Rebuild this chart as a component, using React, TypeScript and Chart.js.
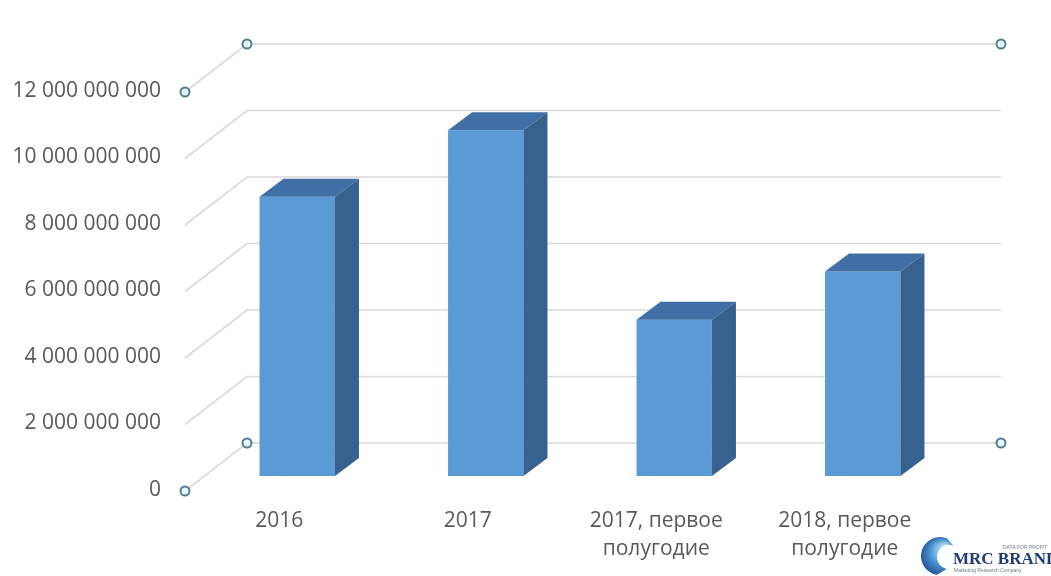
import React, { useEffect, useRef } from "react";
import { Chart, registerables } from "chart.js";

Chart.register(...registerables);

const categories: (string | string[])[] = [
  "2016",
  "2017",
  ["2017, первое", "полугодие"],
  ["2018, первое", "полугодие"],
];
const values: number[] = [8400000000, 10400000000, 4700000000, 6150000000];
const yMin = 0;
const yMax = 12000000000;
const yStep = 2000000000;

const FRONT = { dx: -18, dy: 15 };
const BACK = { dx: 44, dy: -33 };
const BAR_DEPTH = { dx: 24, dy: -18 };

const fmt = (v: number) =>
  Math.round(v)
    .toString()
    .replace(/\B(?=(\d{3})+(?!\d))/g, " ");

const wallPlugin = {
  id: "wall3d",
  beforeDatasetsDraw(chart: any) {
    const { ctx, chartArea, scales } = chart;
    const y = scales.y;
    ctx.save();
    ctx.strokeStyle = "#D9D9D9";
    ctx.lineWidth = 1.6;
    for (let v = yMin; v <= yMax; v += yStep) {
      const py = y.getPixelForValue(v);
      ctx.beginPath();
      ctx.moveTo(chartArea.left + FRONT.dx, py + FRONT.dy);
      ctx.lineTo(chartArea.left + BACK.dx, py + BACK.dy);
      ctx.lineTo(chartArea.right + BACK.dx, py + BACK.dy);
      ctx.stroke();
    }
    ctx.restore();
  },
  afterDatasetsDraw(chart: any) {
    const { ctx, chartArea, scales } = chart;
    const meta = chart.getDatasetMeta(0);
    ctx.save();
    meta.data.forEach((bar: any) => {
      const { x, y, base, width } = bar.getProps(["x", "y", "base", "width"], true);
      const x0 = x - width / 2;
      const x1 = x + width / 2;
      // top face
      ctx.fillStyle = "#3F6FA4";
      ctx.beginPath();
      ctx.moveTo(x0, y);
      ctx.lineTo(x1, y);
      ctx.lineTo(x1 + BAR_DEPTH.dx, y + BAR_DEPTH.dy);
      ctx.lineTo(x0 + BAR_DEPTH.dx, y + BAR_DEPTH.dy);
      ctx.closePath();
      ctx.fill();
      // side face
      ctx.fillStyle = "#37618F";
      ctx.beginPath();
      ctx.moveTo(x1, y);
      ctx.lineTo(x1 + BAR_DEPTH.dx, y + BAR_DEPTH.dy);
      ctx.lineTo(x1 + BAR_DEPTH.dx, base + BAR_DEPTH.dy);
      ctx.lineTo(x1, base);
      ctx.closePath();
      ctx.fill();
    });
    // selection handles
    const yTop = scales.y.getPixelForValue(yMax);
    const yBot = scales.y.getPixelForValue(yMin);
    const pts = [
      [chartArea.left + FRONT.dx, yTop + FRONT.dy],
      [chartArea.left + BACK.dx, yTop + BACK.dy],
      [chartArea.right + BACK.dx, yTop + BACK.dy],
      [chartArea.left + FRONT.dx, yBot + FRONT.dy],
      [chartArea.left + BACK.dx, yBot + BACK.dy],
      [chartArea.right + BACK.dx, yBot + BACK.dy],
    ];
    ctx.lineWidth = 2;
    ctx.strokeStyle = "#4F7D98";
    ctx.fillStyle = "#EAF6FB";
    pts.forEach(([px, py]) => {
      ctx.beginPath();
      ctx.arc(px, py, 4.5, 0, Math.PI * 2);
      ctx.fill();
      ctx.stroke();
    });
    // logo
    const lx = 940;
    const ly = 556;
    const g = ctx.createRadialGradient(lx + 6, ly - 8, 2, lx, ly, 22);
    g.addColorStop(0, "#D6EEFA");
    g.addColorStop(0.5, "#4C9AD6");
    g.addColorStop(1, "#1D4488");
    ctx.fillStyle = g;
    ctx.beginPath();
    ctx.arc(lx, ly, 19, Math.PI * 0.55, Math.PI * 1.62);
    ctx.arc(lx + 9, ly + 1, 12, Math.PI * 1.62, Math.PI * 0.55, true);
    ctx.closePath();
    ctx.fill();
    ctx.fillStyle = "#1F3C7A";
    ctx.font = "bold 17px 'Liberation Serif', serif";
    ctx.textAlign = "left";
    ctx.textBaseline = "alphabetic";
    ctx.fillText("MRC BRAND", 953, 564);
    ctx.font = "5px 'Liberation Sans', sans-serif";
    ctx.fillStyle = "#6A7A90";
    ctx.fillText("DATA FOR PROFIT", 1003, 549);
    ctx.fillText("Marketing Research Company", 954, 572);
    ctx.restore();
  },
};

export default function App() {
  const ref = useRef<HTMLCanvasElement | null>(null);
  useEffect(() => {
    if (!ref.current) return;
    const chart = new Chart(ref.current, {
      type: "bar",
      data: {
        labels: categories as any,
        datasets: [
          {
            data: values,
            backgroundColor: "#5B9BD5",
            borderWidth: 0,
            categoryPercentage: 1,
            barPercentage: 0.4,
          },
        ],
      },
      options: {
        animation: false,
        responsive: true,
        maintainAspectRatio: false,
        layout: { padding: { top: 77, right: 94, bottom: 0, left: 0 } },
        plugins: { legend: { display: false }, tooltip: { enabled: false } },
        scales: {
          x: {
            grid: { display: false, drawTicks: false },
            border: { display: false },
            afterFit: (s: any) => {
              s.height = 100;
            },
            ticks: {
              color: "#595959",
              font: { family: "'Open Sans', sans-serif", size: 21, lineHeight: 1.333 },
              padding: 31,
              labelOffset: -18,
              maxRotation: 0,
              autoSkip: false,
            },
          },
          y: {
            min: yMin,
            max: yMax,
            grid: { display: false, drawTicks: false },
            border: { display: false },
            afterFit: (s: any) => {
              s.width = 203;
            },
            ticks: {
              stepSize: yStep,
              color: "#595959",
              font: { family: "'Open Sans', sans-serif", size: 21 },
              padding: 42,
              labelOffset: 14,
              callback: (v: any) => fmt(Number(v)),
            },
          },
        },
      },
      plugins: [wallPlugin],
    });
    return () => chart.destroy();
  }, []);
  return (
    <div style={{ position: "fixed", left: 0, top: 0, width: 1051, height: 576, background: "#fff" }}>
      <canvas ref={ref} />
    </div>
  );
}
